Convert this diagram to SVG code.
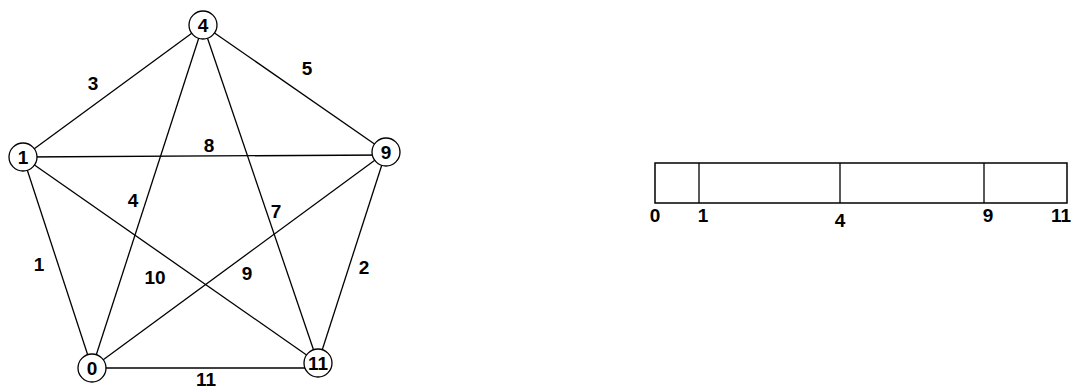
<svg xmlns="http://www.w3.org/2000/svg" width="1072" height="389" viewBox="0 0 1072 389">
<style>
.e{stroke:#000;stroke-width:1.3;fill:none}
.n{fill:#fff;stroke:#000;stroke-width:1.3}
text{font-family:"Liberation Sans",Arial,sans-serif;font-weight:bold;font-size:19px;text-anchor:middle;fill:#000}
</style>
<rect width="1072" height="389" fill="#fff"/>
<g id="connectors">
<line class="e" x1="203" y1="25" x2="23" y2="157"/>
<line class="e" x1="203" y1="25" x2="386" y2="152"/>
<line class="e" x1="23" y1="157" x2="386" y2="155"/>
<line class="e" x1="203" y1="25" x2="92" y2="368"/>
<line class="e" x1="203" y1="25" x2="318" y2="363"/>
<line class="e" x1="23" y1="157" x2="92" y2="368"/>
<line class="e" x1="23" y1="157" x2="318" y2="363"/>
<line class="e" x1="386" y1="152" x2="92" y2="368"/>
<line class="e" x1="386" y1="152" x2="318" y2="363"/>
<line class="e" x1="92" y1="368" x2="318" y2="368"/>
</g>
<g id="edge-labels">
<text x="93" y="90">3</text>
<text x="307" y="75">5</text>
<text x="209" y="152">8</text>
<text x="133" y="207">4</text>
<text x="276" y="218">7</text>
<text x="39" y="271">1</text>
<text x="155" y="284">10</text>
<text x="247" y="280">9</text>
<text x="364" y="274">2</text>
<text x="206" y="386">11</text>
</g>
<g id="node-4"><circle class="n" cx="203" cy="25" r="14"/><text x="203" y="32">4</text></g>
<g id="node-1"><circle class="n" cx="23" cy="157" r="14"/><text x="23" y="164">1</text></g>
<g id="node-9"><circle class="n" cx="386" cy="152" r="14"/><text x="386" y="159">9</text></g>
<g id="node-0"><circle class="n" cx="92" cy="368" r="14"/><text x="92" y="375">0</text></g>
<g id="node-11"><circle class="n" cx="318" cy="363" r="14"/><text x="318" y="370">11</text></g>
<g id="array">
<rect x="655" y="163" width="412" height="40" fill="none" stroke="#000" stroke-width="1.5"/>
<line class="e" x1="699" y1="163" x2="699" y2="203"/>
<line class="e" x1="840" y1="163" x2="840" y2="203"/>
<line class="e" x1="984" y1="163" x2="984" y2="203"/>
<text x="655" y="222">0</text>
<text x="703" y="222">1</text>
<text x="840" y="227">4</text>
<text x="988" y="222">9</text>
<text x="1071" y="222" style="text-anchor:end">11</text>
</g>
</svg>
